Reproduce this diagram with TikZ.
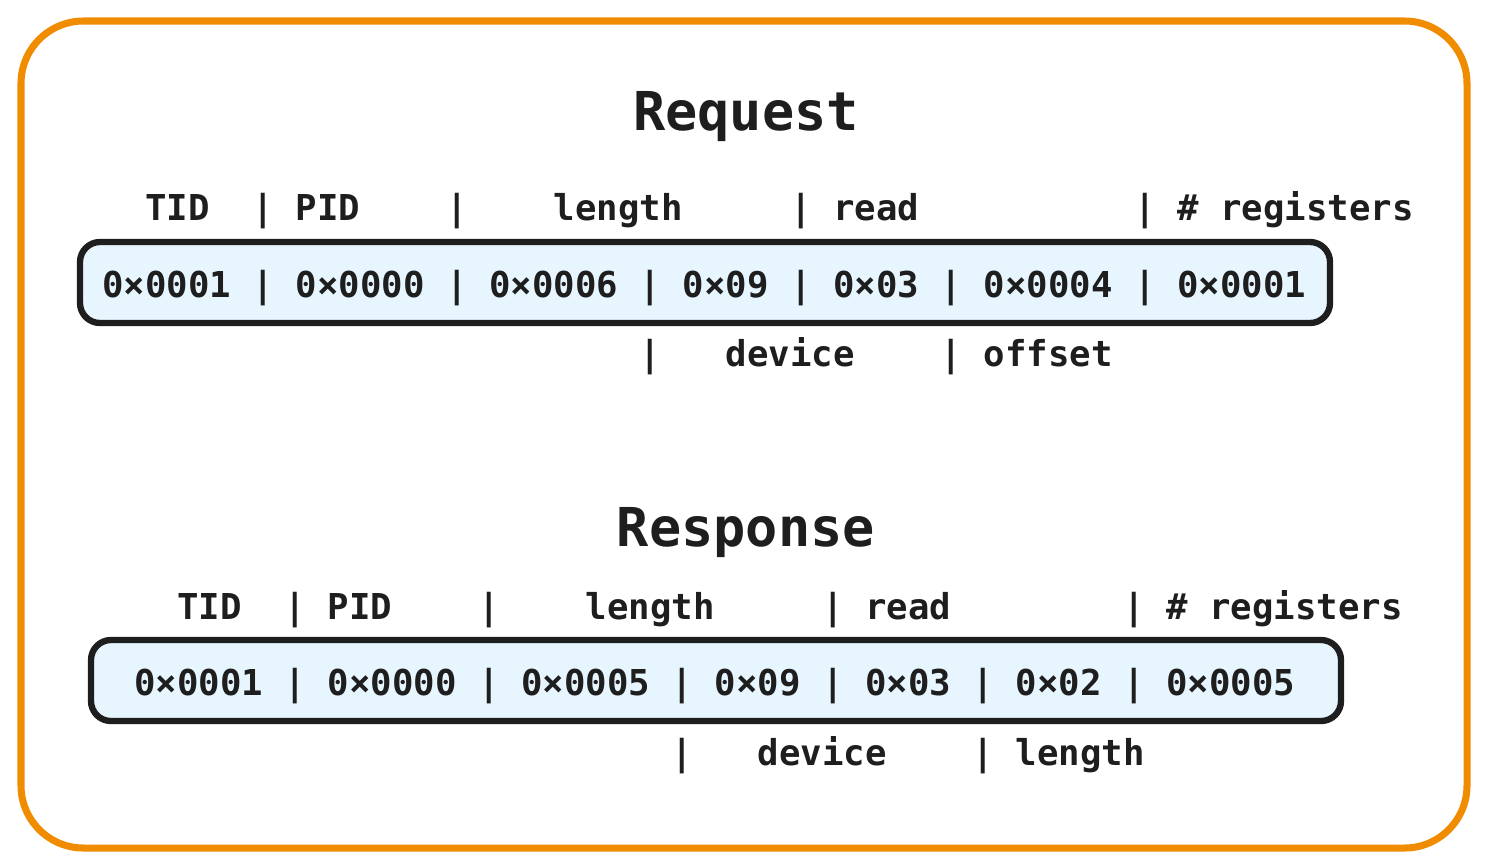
\documentclass[tikz,border=0pt]{standalone}
\usepackage{fontspec}
\newfontfamily\codefont{DejaVu Sans Mono}
\usetikzlibrary{positioning}
\definecolor{frameorange}{HTML}{F08C00}
\definecolor{rowfill}{HTML}{E7F5FF}
\definecolor{ink}{HTML}{1E1E1E}

\begin{document}
\begin{tikzpicture}[
    x=0.02cm, y=-0.02cm,
    every node/.style={text=ink, inner sep=0pt},
    lbl/.style={anchor=base west, font=\codefont\bfseries\fontsize{20.3}{24}\selectfont},
    title/.style={anchor=base, font=\codefont\bfseries\fontsize{30.5}{36}\selectfont},
    rowbox/.style={draw=ink, fill=rowfill, line width=3.6pt, rounded corners=0.4cm},
  ]
  \useasboundingbox (0,0) rectangle (1487,867);
  \draw[frameorange, line width=4pt, rounded corners=1.25cm] (21,21) rectangle (1467,848);

  % request frame
  \node[title] (reqtitle) at (746,130) {Request};
  \draw[rowbox] (80,242) rectangle (1330,323);
  \foreach \c/\t [count=\i] in {2/TID, 7/|, 9/PID, 16/|, 21/length, 32/|, 34/read, 48/|, 50/\# registers}
    \node[lbl] (reqtop\i) at ({102+\c*21.5},220) {\t};
  \foreach \c/\t [count=\i] in {0/0×0001, 7/|, 9/0×0000, 16/|, 18/0×0006, 25/|, 27/0×09, 32/|, 34/0×03, 39/|, 41/0×0004, 48/|, 50/0×0001}
    \node[lbl] (reqval\i) at ({102+\c*21.5},297) {\t};
  \foreach \c/\t [count=\i] in {25/|, 29/device, 39/|, 41/offset}
    \node[lbl] (reqbot\i) at ({102+\c*21.5},366) {\t};

  % response frame
  \node[title] (restitle) at (746,546) {Response};
  \draw[rowbox] (91,640) rectangle (1341,721);
  \foreach \c/\t [count=\i] in {2/TID, 7/|, 9/PID, 16/|, 21/length, 32/|, 34/read, 46/|, 48/\# registers}
    \node[lbl] (restop\i) at ({134+\c*21.5},619) {\t};
  \foreach \c/\t [count=\i] in {0/0×0001, 7/|, 9/0×0000, 16/|, 18/0×0005, 25/|, 27/0×09, 32/|, 34/0×03, 39/|, 41/0×02, 46/|, 48/0×0005}
    \node[lbl] (resval\i) at ({134+\c*21.5},695) {\t};
  \foreach \c/\t [count=\i] in {25/|, 29/device, 39/|, 41/length}
    \node[lbl] (resbot\i) at ({134+\c*21.5},765) {\t};
\end{tikzpicture}
\end{document}
